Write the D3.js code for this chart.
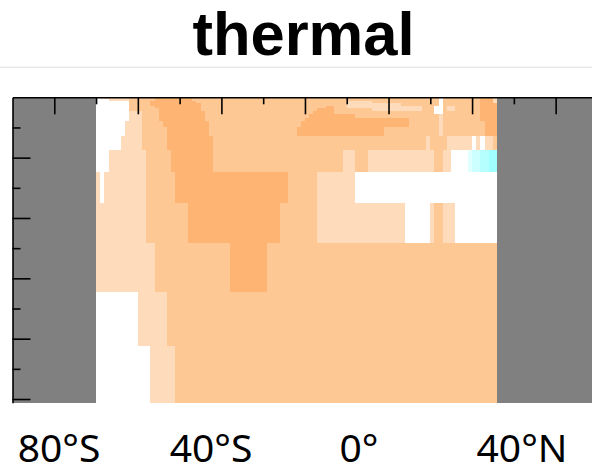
<!DOCTYPE html>
<html><head><meta charset="utf-8">
<script src="https://cdn.jsdelivr.net/npm/d3@7"></script>
<style>body{margin:0;background:#fff;} svg{display:block}</style>
</head><body>
<svg id="chart" width="592" height="469"></svg>
<script>
// ---------- data ----------
const titleText = "thermal";
// depth level interfaces (m)
const depthEdges = [0, 33, 66, 100, 141, 179, 232, 282, 340, 390, 489, 634, 871, 1231, 1755, 2421, 3221, 4121, 5061];
// ocean extent (lat) ; outside is land
const oceanLat = [-70, 26];
// per level: [latStart, latEnd, value]  (value = binned thermal term)
const level00 = [[-70,-69,0],[-69,-62,0.1],[-62,-56,0.2],[-56,-47,0.3],[-47,12,0.2],[12,13,0],[13,22,0.2],[22,25,0.3],[25,26,0.1]];
const level01 = [[-70,-67,0],[-67,-62,0.1],[-62,-56,0.2],[-56,-47,0.3],[-47,12,0.2],[12,13,0],[13,22,0.2],[22,25,0.3],[25,26,0.1]];
const level02 = [[-70,-62,0],[-62,-57,0.2],[-57,-46,0.3],[-46,-10,0.2],[-10,-4,0.1],[-4,12,0.2],[12,13,0],[13,22,0.2],[22,25,0.3],[25,26,0.1]];
const level03 = [[-70,-62,0],[-62,-57,0.2],[-57,-45,0.3],[-45,-10,0.2],[-10,3,0.1],[3,12,0.2],[12,13,0],[13,22,0.2],[22,26,0.3]];
const level04 = [[-70,-62,0],[-62,-56,0.2],[-56,-45,0.3],[-45,-15,0.2],[-15,-13,0.3],[-13,-10,0.2],[-10,8,0.1],[8,11,0.2],[11,13,0],[13,14,0.2],[14,16,0.1],[16,22,0.2],[22,26,0.3]];
const level05 = [[-70,-62,0],[-62,-55,0.2],[-55,-45,0.3],[-45,-17,0.2],[-17,-13,0.3],[-13,-4,0.2],[-4,8,0.1],[8,11,0.2],[11,13,0],[13,14,0.2],[14,16,0.1],[16,22,0.2],[22,26,0.3]];
const level06 = [[-70,-62,0],[-62,-59,0.1],[-59,-55,0.2],[-55,-44,0.3],[-44,-18,0.2],[-18,-13,0.3],[-13,11,0.2],[11,13,0],[13,22,0.2],[22,26,0.3]];
const level07 = [[-70,-62,0],[-62,-59,0.1],[-59,-55,0.2],[-55,-44,0.3],[-44,-19,0.2],[-19,-8,0.3],[-8,12,0.2],[12,13,0.1],[13,22,0.2],[22,26,0.3]];
const level08 = [[-70,-62,0],[-62,-59,0.1],[-59,-55,0.2],[-55,-44,0.3],[-44,-20,0.2],[-20,5,0.3],[5,12,0.2],[12,13,0.1],[13,22,0.2],[22,26,0.3]];
const level09 = [[-70,-63,0],[-63,-59,0.1],[-59,-54,0.2],[-54,-43,0.3],[-43,-21,0.2],[-21,5,0.3],[5,12,0.2],[12,13,0.1],[13,23,0.2],[23,26,0.3]];
const level10 = [[-70,-63,0],[-63,-59,0.1],[-59,-53,0.2],[-53,-43,0.3],[-43,-22,0.2],[-22,-1,0.3],[-1,12,0.2],[12,13,0.1],[13,23,0.2],[23,26,0.3]];
const level11 = [[-70,-64,0],[-64,-59,0.1],[-59,-53,0.2],[-53,-42,0.3],[-42,9,0.2],[9,10,0.1],[10,14,0.2],[14,20,0.1],[20,21,0],[21,22,0.1],[22,23,0],[23,25,0.1],[25,26,0.2]];
const level12 = [[-70,-67,0],[-67,-58,0.1],[-58,-52,0.2],[-52,-42,0.3],[-42,-11,0.2],[-11,-8,0.1],[-8,-5,0.2],[-5,11,0.1],[11,13,0.2],[13,15,0.1],[15,19,0],[19,20,-0.1],[20,22,-0.2],[22,24,-0.3],[24,26,-0.4]];
const level13 = [[-70,-69,0.1],[-69,-68,0],[-68,-58,0.1],[-58,-51,0.2],[-51,-24,0.3],[-24,-17,0.2],[-17,-8,0.1],[-8,26,0]];
const level14 = [[-70,-58,0.1],[-58,-48,0.2],[-48,-26,0.3],[-26,-17,0.2],[-17,4,0.1],[4,10,0],[10,11,0.1],[11,13,0.2],[13,16,0.1],[16,26,0]];
const level15 = [[-70,-56,0.1],[-56,-38,0.2],[-38,-29,0.3],[-29,26,0.2]];
const level16 = [[-70,-60,0],[-60,-53,0.1],[-53,26,0.2]];
const level17 = [[-70,-57,0],[-57,-51,0.1],[-51,26,0.2]];
const levels = [level00,level01,level02,level03,level04,level05,level06,level07,level08,level09,
                level10,level11,level12,level13,level14,level15,level16,level17];

const binEdges = [-0.35,-0.25,-0.15,-0.05,0.05,0.15,0.25];
const binColors = ["#a0ffff","#b6ffff","#ccffff","#e0ffff","#ffffff","#fedcbb","#fec895","#feb472"];
const landColor = "#808080";

const latTicks = d3.range(-80, 91, 10);
const depthTicks = d3.range(500, 5001, 500);
const labelLats = [-80, -40, 0, 40];
const labelTexts = ["80°S", "40°S", "0°", "40°N"];
const labelPos = [59, 211, 359, 522];

// ---------- layout ----------
const svg = d3.select("#chart");
const x0 = 12.5, y0 = 97.3, pxPerDeg = 4.178;
const x = d3.scaleLinear().domain([-90, 90]).range([x0, x0 + 180 * pxPerDeg]);
const y = d3.scaleLinear().domain([0, 5061]).range([y0, 402.7]);
const color = d3.scaleThreshold().domain(binEdges).range(binColors);
const labelX = d3.scaleLinear().domain(labelLats).range(labelPos);

// title
svg.append("text").attr("x", 303.5).attr("y", 55)
  .attr("text-anchor", "middle")
  .style("font-family", "'Liberation Sans', Arial, Helvetica, sans-serif")
  .style("font-weight", "bold").style("font-size", "61.5px").attr("fill", "#000")
  .text(titleText);
svg.append("line").attr("x1", 0).attr("x2", 592).attr("y1", 67.2).attr("y2", 67.2)
  .attr("stroke", "#dedede").attr("stroke-width", 1);

// land
const g = svg.append("g").attr("shape-rendering", "crispEdges");
[[-90, oceanLat[0]], [oceanLat[1], 90]].forEach(([a, b]) => {
  g.append("rect").attr("x", x(a)).attr("y", y(0)).attr("width", x(b) - x(a))
    .attr("height", y(5061) - y(0)).attr("fill", landColor);
});

// cells
levels.forEach((segs, i) => {
  const top = depthEdges[i], bot = depthEdges[i + 1];
  g.selectAll(null).data(segs).enter().append("rect")
    .attr("x", d => x(d[0])).attr("width", d => x(d[1]) - x(d[0]))
    .attr("y", y(top)).attr("height", y(bot) - y(top))
    .attr("fill", d => color(d[2]));
});

// axes
function styleAxis(sel) {
  sel.selectAll("path").attr("stroke", "#000").attr("stroke-width", 1.6);
  sel.selectAll("line").attr("stroke", "#000").attr("stroke-width", 1.6);
  sel.selectAll("text").remove();
}
const major = latTicks.filter(d => d % 20 === 0);
const minor = latTicks.filter(d => d % 20 !== 0);
svg.append("g").attr("transform", `translate(0,${y0})`)
  .call(d3.axisTop(x).tickValues(minor).tickSizeInner(-7).tickSizeOuter(0).tickFormat(""))
  .call(styleAxis).call(s => s.select("path").remove());
svg.append("g").attr("transform", `translate(0,${y0})`)
  .call(d3.axisTop(x).tickValues(major).tickSizeInner(-17).tickSizeOuter(0).tickFormat(""))
  .call(styleAxis);

const dMajor = depthTicks.filter(d => d % 1000 === 0);
const dMinor = depthTicks.filter(d => d % 1000 !== 0);
svg.append("g").attr("transform", `translate(${x0},0)`)
  .call(d3.axisLeft(y).tickValues(dMinor).tickSizeInner(-8).tickSizeOuter(0).tickFormat(""))
  .call(styleAxis).call(s => s.select("path").remove());
svg.append("g").attr("transform", `translate(${x0},0)`)
  .call(d3.axisLeft(y).tickValues(dMajor).tickSizeInner(-18).tickSizeOuter(0).tickFormat(""))
  .call(styleAxis);

// bottom labels
svg.selectAll(".lab").data(labelLats).enter().append("text")
  .attr("class", "lab")
  .attr("x", d => labelX(d)).attr("y", 461.7)
  .attr("text-anchor", "middle")
  .style("font-family", "'Noto Sans', 'Open Sans', sans-serif")
  .style("font-size", "39px").attr("fill", "#000")
  .text((d, i) => labelTexts[i]);
</script>
</body></html>
